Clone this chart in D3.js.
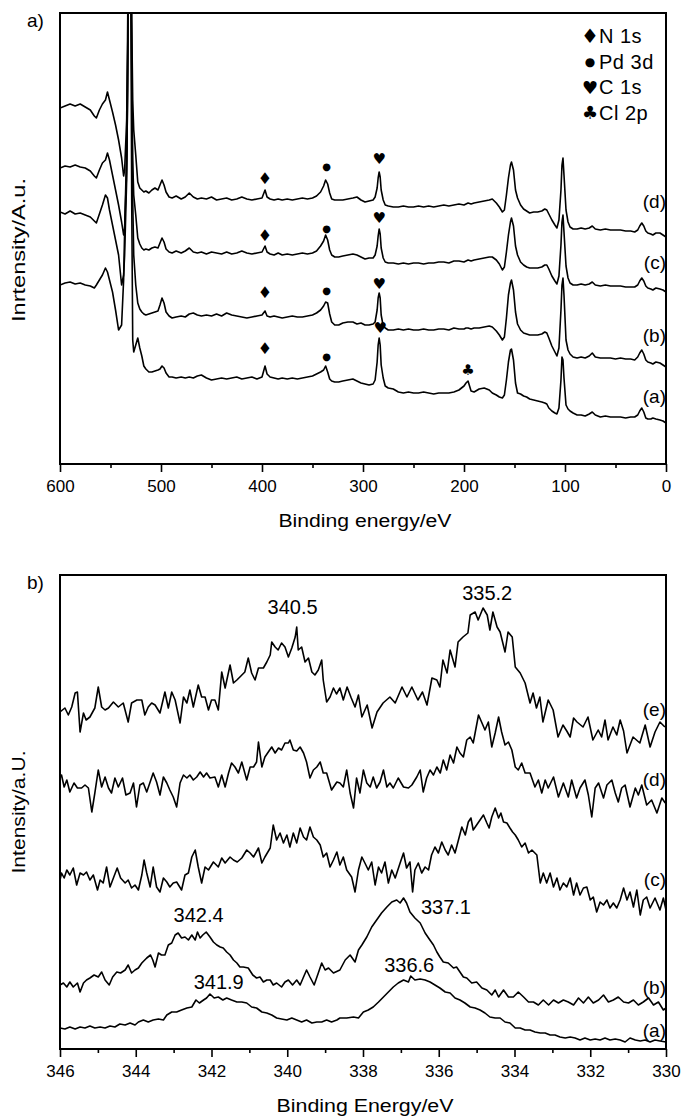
<!DOCTYPE html>
<html>
<head>
<meta charset="utf-8">
<script src="https://cdn.jsdelivr.net/npm/d3@7"></script>
<style>
  body { margin: 0; background: #fff; }
  svg text { font-family: "Liberation Sans", Arial, sans-serif; fill: #000; }
</style>
</head>
<body>
<svg width="681" height="1118"></svg>
<script>
// ---- panel a: XPS survey spectra (binding energy in eV, intensity in a.u.) ----
var energyA = [600,595,590,585,580,575,570,566,564,561,
  558,555,553,551,548,545,542,539,537,536,
  534,533,532,531,530,529,528,527,525,523,
  521,519,517,515,512,509,506,503,501,499,
  497,495,492,489,485,480,476,472,468,464,
  460,455,450,445,440,435,430,425,420,415,
  410,405,400,397,395,392,388,384,380,375,
  370,365,360,355,350,346,342,339,337,335,
  333,331,328,324,320,315,310,306,302,298,
  294,290,288,286,285,284,283,282,280,278,
  275,270,265,260,255,250,245,240,235,230,
  225,220,215,210,205,200,198,196,193,190,
  185,180,175,172,168,165,162,160,158,156,
  154,153,151,149,147,144,141,138,135,131,
  127,123,120,118,116,113,110,108,106,104,
  103,102,101,99,97,95,92,88,84,80,
  76,73,70,65,60,55,50,45,40,35,
  31,28,26,24,22,20,18,15,13,10,
  6,3,0];

var surveyA = [179,181,182,180,181,179,178,176,179,184,
  189,196,192,184,172,154,134,139,184,234,
  314,424,664,614,514,264,124,112,119,126,
  116,108,98,95,92,92,93,94,95,98,
  96,91,87,87,86,87,86,87,86,88,
  89,86,84,85,86,85,86,87,85,86,
  87,85,87,98,90,87,86,85,86,85,
  86,85,86,87,88,90,92,94,98,92,
  85,83,82,82,83,84,85,83,81,80,
  79,80,84,102,119,126,119,99,86,78,
  76,75,72,71,72,71,71,72,71,70,
  71,71,71,72,74,78,81,83,73,72,
  75,76,74,71,69,67,66,69,84,102,
  114,115,104,81,71,70,68,67,65,64,
  63,62,61,60,56,53,51,50,56,84,
  107,104,86,59,55,53,51,49,49,48,
  50,52,49,47,48,47,47,47,46,47,
  47,49,53,56,52,46,45,45,46,45,
  44,43,41];

var surveyB = [252,250,253,250,251,249,247,243,241,250,
  259,269,266,254,239,224,209,179,189,209,
  284,384,614,664,564,384,264,209,179,161,
  155,152,150,149,150,151,152,153,159,166,
  161,152,148,146,147,148,147,150,151,149,
  148,149,148,150,148,151,149,148,147,146,
  147,148,149,153,148,147,148,147,146,147,
  148,147,147,148,149,151,154,158,162,161,
  150,142,139,139,141,142,142,140,141,139,
  139,140,142,154,166,171,166,149,138,136,
  134,134,135,134,135,134,134,135,134,134,
  135,135,134,136,135,135,136,136,135,136,
  136,137,138,137,133,129,124,127,146,169,
  181,184,174,152,140,134,131,130,129,129,
  129,130,132,131,126,118,112,108,116,154,
  179,186,169,124,114,110,107,106,107,106,
  108,111,107,106,106,106,105,106,105,105,
  104,107,111,114,110,104,102,101,100,102,
  101,99,97];

var surveyC = [296,298,297,299,297,296,293,288,286,294,
  301,304,311,304,289,274,259,242,229,236,
  294,374,614,664,564,404,304,269,249,226,
  220,216,214,215,214,216,217,216,221,226,
  222,215,212,211,213,211,213,216,212,211,
  212,210,212,211,210,212,210,211,213,211,
  210,211,212,218,212,210,209,211,209,210,
  209,210,211,210,211,213,218,223,229,224,
  214,209,207,207,208,209,210,209,207,205,
  206,206,209,218,228,235,230,216,206,202,
  201,201,200,201,200,201,201,200,201,201,
  202,202,201,203,203,202,203,204,203,204,
  205,206,207,207,204,200,194,197,212,229,
  242,246,238,218,209,202,199,197,196,196,
  196,197,199,199,195,188,183,180,188,219,
  242,249,232,198,186,181,179,179,180,179,
  180,182,179,178,179,178,178,178,177,177,
  177,179,183,186,183,178,176,175,174,176,
  175,174,172];

var surveyD = [356,358,360,358,360,357,354,348,346,354,
  360,364,372,364,352,339,324,306,288,294,
  344,424,664,714,614,444,364,334,309,282,
  276,274,272,273,271,274,276,274,279,284,
  279,272,267,266,268,265,267,271,267,265,
  266,265,267,264,265,266,264,265,267,265,
  264,265,266,274,267,265,264,265,264,265,
  264,265,266,265,266,268,272,278,284,280,
  271,265,264,264,264,265,266,267,264,262,
  263,264,267,276,286,292,287,274,264,259,
  258,257,257,258,257,257,258,257,258,257,
  258,259,258,259,260,259,260,261,260,261,
  262,263,264,265,261,257,252,254,269,286,
  299,302,294,274,266,259,255,253,251,252,
  252,253,255,254,250,244,239,236,244,274,
  299,306,289,254,242,237,235,235,236,235,
  236,238,235,234,235,234,234,234,233,233,
  232,234,238,241,238,233,231,230,229,231,
  231,229,227];

var surveySeries = [surveyA, surveyB, surveyC, surveyD];
var surveyNames = ['(a)', '(b)', '(c)', '(d)'];
var surveyLabelLevel = [68, 129, 202, 263];

var legendSymbols = ['\u2666', '\u25CF', '\u2665', '\u2663'];
var legendNames = ['N 1s', 'Pd 3d', 'C 1s', 'Cl 2p'];
// [symbol index, eV, a.u.] peak markers above the spectra
var peakMarks = [
  [0, 397, 286], [1, 336, 298], [2, 284, 305],
  [0, 397, 229], [1, 336, 236], [2, 284, 246],
  [0, 397, 172], [1, 336, 174], [2, 284, 180],
  [0, 397, 116], [1, 336, 108], [2, 283, 136], [3, 196, 94]
];

var ticksA = [600, 500, 400, 300, 200, 100, 0];
var minorTicksA = [550, 450, 350, 250, 150, 50];

// ---- panel b: Pd 3d region, [eV, a.u.] ----
var pdA = [[346.0,21],[345.87,20],[345.74,22],[345.6,20],[345.47,22],[345.34,21],[345.21,23],[345.08,21],[344.94,22],[344.81,21],[344.68,23],[344.55,22],[344.42,25],[344.28,24],[344.15,26],[344.02,24],[343.93,27],[343.8,29],[343.67,27],[343.54,29],[343.4,30],[343.27,29],[343.18,34],[343.05,37],[342.92,37],[342.79,39],[342.65,41],[342.52,42],[342.41,49],[342.32,46],[342.21,49],[342.13,51],[342.04,55],[341.93,51],[341.82,52],[341.7,49],[341.6,51],[341.47,49],[341.33,47],[341.2,47],[341.07,46],[340.94,42],[340.81,41],[340.67,37],[340.54,36],[340.41,34],[340.28,31],[340.15,30],[340.01,29],[339.88,31],[339.75,29],[339.62,27],[339.49,29],[339.35,26],[339.22,27],[339.09,27],[338.96,29],[338.83,27],[338.69,29],[338.61,31],[338.43,31],[338.25,32],[338.12,31],[337.99,37],[337.86,39],[337.73,42],[337.59,47],[337.46,52],[337.33,57],[337.2,62],[337.07,66],[336.93,69],[336.8,67],[336.74,73],[336.63,69],[336.49,70],[336.36,69],[336.23,67],[336.1,64],[335.97,61],[335.83,57],[335.7,56],[335.57,51],[335.44,49],[335.31,46],[335.17,42],[335.04,41],[334.91,39],[334.78,36],[334.65,32],[334.51,31],[334.38,31],[334.25,27],[334.12,26],[333.98,21],[333.85,21],[333.72,19],[333.59,19],[333.46,17],[333.32,16],[333.19,16],[333.06,14],[332.93,14],[332.8,12],[332.66,11],[332.53,12],[332.4,11],[332.27,9],[332.14,11],[332.0,9],[331.87,10],[331.74,9],[331.61,11],[331.48,9],[331.34,10],[331.21,9],[331.08,7],[330.95,11],[330.81,9],[330.68,8],[330.55,9],[330.42,7],[330.29,9],[330.16,8],[330.0,7]];

var pdB = [[346.0,64],[345.91,66],[345.82,62],[345.74,67],[345.65,62],[345.54,66],[345.47,57],[345.38,66],[345.3,69],[345.21,71],[345.1,74],[344.99,72],[344.9,77],[344.81,69],[344.7,64],[344.61,72],[344.5,77],[344.4,76],[344.28,79],[344.2,84],[344.11,76],[344.02,79],[343.93,81],[343.84,86],[343.71,91],[343.61,94],[343.55,89],[343.49,82],[343.4,96],[343.32,94],[343.23,94],[343.14,104],[343.05,106],[342.96,114],[342.88,116],[342.79,111],[342.7,112],[342.61,109],[342.52,114],[342.43,109],[342.37,117],[342.3,111],[342.23,114],[342.14,117],[342.04,112],[341.95,107],[341.86,104],[341.77,102],[341.69,101],[341.6,97],[341.51,94],[341.42,89],[341.33,86],[341.25,82],[341.16,82],[341.03,81],[340.91,74],[340.81,71],[340.72,72],[340.63,67],[340.54,69],[340.45,69],[340.37,64],[340.28,66],[340.15,62],[340.06,67],[339.97,69],[339.86,64],[339.75,69],[339.66,64],[339.57,72],[339.49,79],[339.4,72],[339.29,64],[339.18,76],[339.09,86],[339.0,79],[338.91,81],[338.78,76],[338.61,79],[338.47,89],[338.34,94],[338.21,87],[338.12,99],[338.03,104],[337.9,112],[337.77,122],[337.64,129],[337.51,136],[337.37,142],[337.24,147],[337.11,149],[337.02,146],[336.93,151],[336.85,146],[336.76,137],[336.63,131],[336.49,126],[336.36,116],[336.27,111],[336.14,104],[336.05,97],[335.97,92],[335.88,87],[335.75,86],[335.61,81],[335.53,82],[335.44,77],[335.35,72],[335.26,71],[335.13,66],[335.0,67],[334.86,61],[334.73,59],[334.6,54],[334.51,59],[334.42,52],[334.29,59],[334.16,52],[334.03,52],[333.9,57],[333.76,52],[333.63,47],[333.5,47],[333.37,44],[333.24,49],[333.1,44],[332.97,49],[332.84,46],[332.71,49],[332.58,47],[332.44,44],[332.31,51],[332.18,46],[332.05,52],[331.92,46],[331.78,49],[331.65,54],[331.52,47],[331.39,49],[331.26,52],[331.12,47],[330.99,46],[330.86,49],[330.73,44],[330.6,47],[330.46,51],[330.33,44],[330.2,47],[330.07,39],[330.0,41]];

var pdC = [[346.0,169],[345.96,176],[345.89,171],[345.82,179],[345.74,174],[345.65,181],[345.56,164],[345.47,176],[345.38,174],[345.3,177],[345.21,169],[345.12,174],[345.01,159],[344.94,169],[344.86,166],[344.77,182],[344.68,162],[344.59,171],[344.49,181],[344.4,171],[344.28,166],[344.2,169],[344.11,161],[344.02,164],[343.93,159],[343.84,174],[343.78,189],[343.71,176],[343.62,162],[343.54,182],[343.45,162],[343.36,157],[343.27,171],[343.18,167],[343.1,162],[343.01,166],[342.92,167],[342.79,159],[342.7,174],[342.61,176],[342.52,192],[342.43,199],[342.35,182],[342.26,166],[342.17,182],[342.08,179],[341.95,187],[341.82,182],[341.73,191],[341.64,186],[341.51,192],[341.42,189],[341.32,187],[341.2,191],[341.07,199],[340.98,196],[340.89,192],[340.76,201],[340.67,186],[340.59,192],[340.45,201],[340.37,224],[340.28,209],[340.19,216],[340.1,206],[340.01,214],[339.93,202],[339.84,216],[339.75,206],[339.66,221],[339.57,212],[339.49,209],[339.4,222],[339.31,212],[339.22,209],[339.13,204],[339.05,192],[338.96,196],[338.87,182],[338.78,189],[338.69,197],[338.61,184],[338.52,192],[338.43,179],[338.3,172],[338.21,157],[338.12,179],[338.03,192],[337.95,186],[337.86,179],[337.77,187],[337.68,164],[337.59,182],[337.51,176],[337.42,187],[337.33,166],[337.24,179],[337.15,171],[337.02,186],[336.93,196],[336.85,181],[336.76,187],[336.69,157],[336.63,179],[336.54,186],[336.45,176],[336.36,182],[336.27,179],[336.19,194],[336.1,202],[336.01,196],[335.92,207],[335.83,199],[335.75,194],[335.66,204],[335.57,196],[335.48,209],[335.39,222],[335.3,214],[335.22,227],[335.15,231],[335.09,219],[335.0,224],[334.91,229],[334.82,234],[334.73,226],[334.67,221],[334.6,232],[334.51,241],[334.42,231],[334.36,236],[334.29,227],[334.2,226],[334.12,221],[334.05,217],[333.98,214],[333.9,209],[333.81,202],[333.72,206],[333.63,196],[333.54,199],[333.41,194],[333.32,166],[333.24,176],[333.15,166],[333.06,176],[332.97,162],[332.88,171],[332.8,159],[332.71,166],[332.62,162],[332.53,171],[332.44,154],[332.36,166],[332.27,154],[332.18,161],[332.09,162],[332.0,149],[331.92,152],[331.83,137],[331.74,147],[331.65,144],[331.56,149],[331.48,141],[331.39,146],[331.3,141],[331.21,149],[331.12,161],[331.03,149],[330.95,157],[330.86,142],[330.77,159],[330.68,134],[330.6,149],[330.51,152],[330.42,141],[330.29,151],[330.16,139],[330.07,151],[330.0,139]];

var pdD = [[346.0,271],[345.96,274],[345.89,262],[345.82,269],[345.74,257],[345.63,266],[345.54,261],[345.43,261],[345.34,264],[345.25,261],[345.16,237],[345.08,256],[344.99,279],[344.9,262],[344.81,272],[344.72,261],[344.64,256],[344.55,271],[344.46,262],[344.35,271],[344.26,254],[344.15,256],[344.06,266],[343.98,242],[343.89,264],[343.8,266],[343.71,257],[343.62,267],[343.54,276],[343.45,267],[343.36,254],[343.27,272],[343.18,266],[343.1,259],[343.01,252],[342.92,242],[342.83,266],[342.74,274],[342.65,271],[342.57,274],[342.48,269],[342.39,272],[342.3,277],[342.21,272],[342.13,276],[342.04,271],[341.91,272],[341.82,262],[341.73,274],[341.64,262],[341.55,276],[341.47,286],[341.38,282],[341.29,276],[341.2,287],[341.07,269],[340.98,282],[340.89,282],[340.81,287],[340.76,307],[340.67,282],[340.59,292],[340.5,297],[340.41,302],[340.32,296],[340.23,301],[340.15,299],[340.06,306],[339.97,306],[339.93,309],[339.84,299],[339.75,298],[339.66,302],[339.57,296],[339.49,287],[339.4,271],[339.31,279],[339.22,282],[339.13,287],[339.05,276],[338.96,276],[338.83,259],[338.69,267],[338.61,266],[338.52,262],[338.43,279],[338.34,256],[338.25,241],[338.17,271],[338.08,256],[337.99,279],[337.9,266],[337.81,262],[337.73,272],[337.64,261],[337.55,267],[337.46,279],[337.37,262],[337.29,266],[337.2,261],[337.07,271],[336.93,262],[336.8,261],[336.71,264],[336.58,272],[336.49,279],[336.41,257],[336.32,271],[336.23,279],[336.14,274],[336.05,282],[335.96,276],[335.88,289],[335.79,279],[335.7,294],[335.61,286],[335.52,302],[335.44,296],[335.35,292],[335.26,309],[335.17,312],[335.09,306],[335.04,316],[334.95,334],[334.87,327],[334.78,319],[334.69,327],[334.6,302],[334.51,316],[334.42,332],[334.34,317],[334.25,304],[334.16,307],[334.07,299],[333.98,282],[333.9,279],[333.81,286],[333.72,276],[333.59,276],[333.46,262],[333.37,269],[333.28,256],[333.19,269],[333.11,261],[332.97,272],[332.84,252],[332.71,266],[332.58,252],[332.49,269],[332.36,251],[332.27,261],[332.14,269],[332.05,254],[331.96,232],[331.87,261],[331.78,266],[331.65,251],[331.56,264],[331.43,269],[331.34,256],[331.26,247],[331.17,261],[331.08,264],[330.95,242],[330.81,261],[330.73,254],[330.64,264],[330.51,244],[330.38,249],[330.24,236],[330.11,251],[330.02,246]];

var pdE = [[346.0,337],[345.87,341],[345.78,334],[345.69,342],[345.6,356],[345.54,357],[345.47,317],[345.38,336],[345.31,329],[345.21,332],[345.08,341],[344.99,362],[344.9,342],[344.81,339],[344.72,341],[344.59,347],[344.46,342],[344.33,346],[344.2,327],[344.11,346],[343.97,349],[343.84,349],[343.76,334],[343.67,342],[343.58,346],[343.49,344],[343.36,336],[343.23,357],[343.14,341],[343.05,357],[342.96,349],[342.83,326],[342.74,352],[342.65,346],[342.57,359],[342.48,342],[342.35,364],[342.26,352],[342.17,352],[342.08,339],[342.0,349],[341.91,349],[341.82,339],[341.73,377],[341.64,361],[341.51,384],[341.42,366],[341.33,369],[341.25,372],[341.12,377],[341.03,391],[340.94,376],[340.85,369],[340.76,381],[340.63,381],[340.54,387],[340.45,394],[340.41,407],[340.32,402],[340.24,399],[340.15,406],[340.06,402],[339.97,392],[339.88,401],[339.79,412],[339.75,422],[339.71,399],[339.62,402],[339.53,387],[339.44,391],[339.35,377],[339.27,374],[339.18,379],[339.09,389],[339.05,369],[338.96,347],[338.87,352],[338.78,361],[338.7,355],[338.61,361],[338.52,349],[338.42,362],[338.31,351],[338.21,342],[338.12,354],[338.03,332],[337.89,344],[337.76,321],[337.63,337],[337.47,346],[337.29,352],[337.15,346],[336.97,362],[336.84,352],[336.71,362],[336.55,349],[336.43,357],[336.31,344],[336.18,371],[336.05,369],[335.97,362],[335.89,389],[335.78,376],[335.7,399],[335.57,382],[335.49,407],[335.36,412],[335.23,416],[335.17,434],[335.04,437],[334.96,429],[334.83,441],[334.72,434],[334.65,419],[334.57,437],[334.46,422],[334.38,417],[334.25,397],[334.17,417],[334.06,412],[333.98,382],[333.85,376],[333.72,366],[333.59,346],[333.51,356],[333.42,341],[333.33,352],[333.25,327],[333.11,349],[332.98,339],[332.85,312],[332.72,324],[332.62,318],[332.53,312],[332.44,331],[332.35,327],[332.19,322],[332.06,332],[331.93,309],[331.79,319],[331.7,312],[331.61,329],[331.53,309],[331.4,322],[331.3,314],[331.21,329],[331.12,318],[331.03,296],[330.87,312],[330.69,306],[330.55,324],[330.42,302],[330.29,317],[330.16,327],[330.03,322]];

var pdSeries = [pdA, pdB, pdC, pdD, pdE];
var pdNames = ['(a)', '(b)', '(c)', '(d)', '(e)'];
var pdLabelLevel = [19, 62, 170, 270, 340];

var pdPeakText = ['340.5', '335.2', '342.4', '341.9', '337.1', '336.6'];
var pdPeakE = [339.86, 334.72, 342.34, 341.81, 335.81, 336.78];
var pdPeakI = [442, 456, 134, 67, 142, 84];

var ticksB = [346, 344, 342, 340, 338, 336, 334, 332, 330];
var minorTicksB = [345, 343, 341, 339, 337, 335, 333, 331];

// ---- drawing ----
var svg = d3.select('svg');
var left = 60, right = 666;
var defs = svg.append('defs');

var drawPanel = function(p) {
  var x = d3.scaleLinear().domain(p.xDomain).range([left, right]);
  var y = d3.scaleLinear().domain(p.yDomain).range([p.bottom, p.top]);

  defs.append('clipPath').attr('id', p.id)
    .append('rect')
    .attr('x', left).attr('y', p.top)
    .attr('width', right - left).attr('height', p.bottom - p.top);

  var line = d3.line()
    .x(function(d) { return x(d[0]); })
    .y(function(d) { return y(d[1]); });

  svg.append('g').attr('clip-path', 'url(#' + p.id + ')')
    .selectAll('path')
    .data(p.series)
    .enter().append('path')
    .attr('d', line)
    .attr('fill', 'none')
    .attr('stroke', '#000')
    .attr('stroke-width', 1.6)
    .attr('stroke-linejoin', 'round');

  var axis = d3.axisBottom(x).tickValues(p.ticks).tickSize(8).tickPadding(8)
    .tickFormat(d3.format('d'));
  var minorAxis = d3.axisBottom(x).tickValues(p.minor).tickSize(4).tickFormat('');

  var ga = svg.append('g').attr('transform', 'translate(0,' + p.bottom + ')').call(axis);
  var gm = svg.append('g').attr('transform', 'translate(0,' + p.bottom + ')').call(minorAxis);
  [ga, gm].forEach(function(g) {
    g.select('.domain').remove();
    g.attr('font-size', 17).attr('font-family', '"Liberation Sans", Arial, sans-serif');
    g.selectAll('line').attr('stroke', '#000').attr('stroke-width', 1.6);
    g.selectAll('text').attr('fill', '#000');
  });

  svg.append('rect')
    .attr('x', left).attr('y', p.top)
    .attr('width', right - left).attr('height', p.bottom - p.top)
    .attr('fill', 'none').attr('stroke', '#000').attr('stroke-width', 2);

  svg.selectAll(null)
    .data(p.names)
    .enter().append('text')
    .attr('x', right)
    .attr('y', function(d, i) { return y(p.labelLevel[i]); })
    .attr('dy', '0.35em')
    .attr('text-anchor', 'end')
    .attr('font-size', 19)
    .text(function(d) { return d; });

  svg.append('text')
    .attr('x', (left + right) / 2 + 2)
    .attr('y', p.bottom + 63)
    .attr('text-anchor', 'middle')
    .attr('font-size', 18)
    .attr('textLength', p.xTitleLength)
    .attr('lengthAdjust', 'spacingAndGlyphs')
    .text(p.xTitle);

  svg.append('text')
    .attr('transform', 'translate(25,' + p.yTitleCenter + ') rotate(-90)')
    .attr('text-anchor', 'middle')
    .attr('font-size', 19)
    .attr('textLength', p.yTitleLength)
    .attr('lengthAdjust', 'spacingAndGlyphs')
    .text(p.yTitle);

  svg.append('text')
    .attr('x', 27).attr('y', p.top + 14)
    .attr('font-size', 19)
    .text(p.tag);

  return { x: x, y: y };
};

var a = drawPanel({
  id: 'clipA', top: 13, bottom: 464,
  xDomain: [600, 0], yDomain: [0, 451],
  series: surveySeries.map(function(s) {
    return energyA.map(function(e, i) { return [e, s[i]]; });
  }),
  ticks: ticksA, minor: minorTicksA,
  names: surveyNames, labelLevel: surveyLabelLevel,
  xTitle: 'Binding energy/eV', xTitleLength: 173,
  yTitle: 'Inrtensity/A.u.', yTitleLength: 144, yTitleCenter: 250,
  tag: 'a)'
});

// glyph sizes for diamond, dot, heart, club
var markSize = [16, 10, 15, 15];
var legendSize = [20, 12, 18, 18];

// peak markers
svg.selectAll(null)
  .data(peakMarks)
  .enter().append('text')
  .attr('x', function(d) { return a.x(d[1]); })
  .attr('y', function(d) { return a.y(d[2]); })
  .attr('dy', '0.35em')
  .attr('text-anchor', 'middle')
  .style('font-family', '"DejaVu Sans", sans-serif')
  .attr('font-size', function(d) { return markSize[d[0]]; })
  .text(function(d) { return legendSymbols[d[0]]; });

// legend
var legend = svg.append('g').attr('transform', 'translate(590,36)');
legend.selectAll('text.sym')
  .data(legendSymbols)
  .enter().append('text')
  .attr('class', 'sym')
  .attr('x', 0)
  .attr('y', function(d, i) { return i * 25.6; })
  .attr('dy', '0.35em')
  .attr('text-anchor', 'middle')
  .style('font-family', '"DejaVu Sans", sans-serif')
  .attr('font-size', function(d, i) { return legendSize[i]; })
  .text(function(d) { return d; });
legend.selectAll('text.name')
  .data(legendNames)
  .enter().append('text')
  .attr('class', 'name')
  .attr('x', 9)
  .attr('y', function(d, i) { return i * 25.6; })
  .attr('dy', '0.36em')
  .attr('font-size', 20)
  .attr('letter-spacing', 0.5)
  .text(function(d) { return d; });

var b = drawPanel({
  id: 'clipB', top: 575, bottom: 1049,
  xDomain: [346, 330], yDomain: [0, 474],
  series: pdSeries,
  ticks: ticksB, minor: minorTicksB,
  names: pdNames, labelLevel: pdLabelLevel,
  xTitle: 'Binding Energy/eV', xTitleLength: 177,
  yTitle: 'Intensity/a.U.', yTitleLength: 123, yTitleCenter: 812,
  tag: 'b)'
});

svg.selectAll(null)
  .data(pdPeakText)
  .enter().append('text')
  .attr('x', function(d, i) { return b.x(pdPeakE[i]); })
  .attr('y', function(d, i) { return b.y(pdPeakI[i]); })
  .attr('dy', '0.36em')
  .attr('text-anchor', 'middle')
  .attr('font-size', 20)
  .text(function(d) { return d; });
</script>
</body>
</html>
